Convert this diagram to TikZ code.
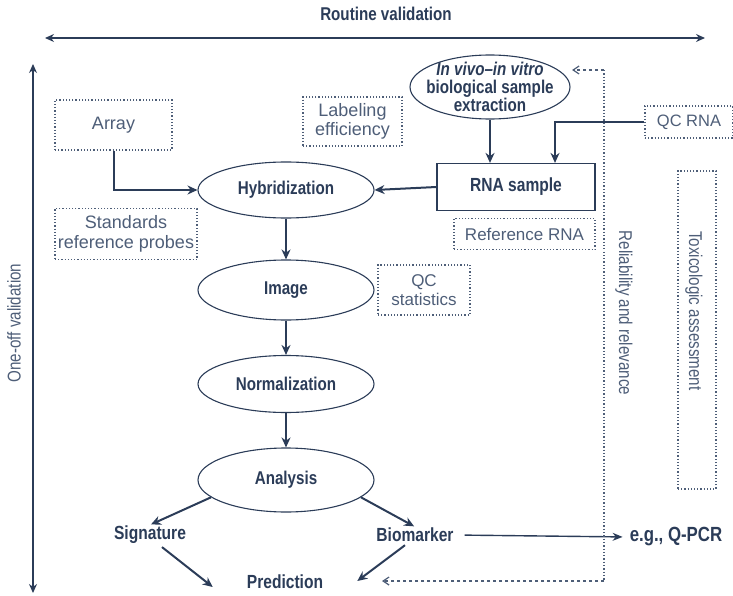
\documentclass[tikz,border=0pt]{standalone}
\usepackage{fontspec}
\setmainfont[FakeStretch=0.82]{Liberation Sans}
\newfontfamily\widefont{Liberation Sans}
\usetikzlibrary{shapes.geometric,arrows.meta}
\definecolor{ink}{HTML}{2B3C58}
\definecolor{lite}{HTML}{4E5E78}
\begin{document}
\begin{tikzpicture}[x=1pt,y=-1pt,
  every node/.style={text=ink},
  ell/.style={draw=ink,line width=1.1pt,ellipse,inner sep=0pt},
  elltext/.style={font=\bfseries\fontsize{18.5}{18}\selectfont,align=center,inner sep=0pt},
  dbox/.style={draw=lite,dotted,line width=1.2pt,inner sep=0pt,font=\widefont\fontsize{18}{19.5}\selectfont,align=center,text=lite},
  sbox/.style={draw=ink,line width=1.2pt,inner sep=0pt,font=\bfseries\fontsize{19}{20}\selectfont,align=center},
  lbl/.style={font=\bfseries\fontsize{19}{20}\selectfont,inner sep=1pt},
  side/.style={font=\fontsize{18.5}{20}\selectfont,text=lite,inner sep=0pt},
  flow/.style={draw=ink,line width=2pt,-{Stealth[length=10pt,width=9pt]}},
  thinflow/.style={draw=ink,line width=1.4pt,-{Stealth[length=10pt,width=8pt]}},
  val/.style={draw=ink,line width=1.3pt,{Stealth[length=9pt,width=8pt]}-{Stealth[length=9pt,width=8pt]}},
  fb/.style={draw=lite,line width=1.2pt,dashed,dash pattern=on 3pt off 3pt,-{Straight Barb[length=6pt,width=8pt]}}
]
\useasboundingbox (0,0) rectangle (733,596);

% validation axes
\node[font=\bfseries\fontsize{18.5}{20}\selectfont,inner sep=0pt] (rv) at (386,14) {Routine validation};
\coordinate (rvl) at (45,38);
\coordinate (rvr) at (705,38);
\draw[val] (rvl) -- (rvr);
\node[side,rotate=90] (ov) at (14,323) {One-off validation};
\coordinate (ovt) at (33,64);
\coordinate (ovb) at (33,593);
\draw[val] (ovt) -- (ovb);

% nodes
\node[ell,minimum width=160,minimum height=64] (vivo) at (490,87) {};
\node[elltext] (vivot) at (vivo.center) {{\itshape In vivo--in vitro}\\biological sample\\extraction};
\node[dbox,minimum width=117,minimum height=50] (array) at (113.5,125) {Array};
\node[dbox,minimum width=99,minimum height=49] (lab) at (352.5,121.5) {Labeling\\efficiency};
\node[dbox,minimum width=88,minimum height=32,font=\widefont\fontsize{16.5}{18}\selectfont] (qc) at (689,122) {QC RNA};
\node[sbox,minimum width=158,minimum height=47] (rna) at (516,187) {RNA sample};
\node[dbox,minimum width=141,minimum height=31,font=\widefont\fontsize{17}{18}\selectfont] (ref) at (524.5,234) {Reference RNA};
\node[ell,minimum width=176,minimum height=56] (hyb) at (286,190) {};
\node[elltext] (hybt) at (hyb.center) {Hybridization};
\node[dbox,minimum width=142,minimum height=51] (std) at (126,234) {Standards\\reference probes};
\node[ell,minimum width=176,minimum height=60] (img) at (286,290) {};
\node[elltext] (imgt) at (img.center) {Image};
\node[dbox,minimum width=92,minimum height=50,font=\widefont\fontsize{17}{19}\selectfont] (qcs) at (424,290) {QC\\statistics};
\node[ell,minimum width=176,minimum height=57] (norm) at (286,384) {};
\node[elltext] (normt) at (norm.center) {Normalization};
\node[ell,minimum width=176,minimum height=64] (ana) at (286,480) {};
\node[elltext] (anat) at (ana.center) {Analysis};
\node[lbl] (sig) at (150,535) {Signature};
\node[lbl] (bio) at (415,535) {Biomarker};
\node[lbl] (pred) at (285,582) {Prediction};
\node[lbl,font=\bfseries\fontsize{20.5}{20}\selectfont] (qpcr) at (676,537) {e.g., Q-PCR};
\node[dbox,minimum width=38,minimum height=318] (tox) at (697,330) {};
\node[side,rotate=-90] (toxt) at (694,311) {Toxicologic assessment};
\node[side,rotate=-90] (rel) at (624,313) {Reliability and relevance};

% main flow
\draw[flow] (vivo.south) -- (vivo.south |- rna.north);
\coordinate (qcin) at (555,0);
\draw[flow] (qc.west) -| (qcin |- rna.north);
\draw[flow] (array.south) |- (hyb.west);
\draw[flow] (rna.west) -- (hyb.east);
\draw[flow] (hyb.south) -- (img.north);
\draw[flow] (img.south) -- (norm.north);
\draw[flow] (norm.south) -- (ana.north);
\draw[flow,shorten >=1pt] (ana.193) -- (sig.north);
\draw[flow,shorten >=1pt] (ana.-13) -- (bio.north);
\draw[flow] ([xshift=12pt,yshift=-2pt]sig.south) -- ([xshift=-33pt,yshift=-5pt]pred.west);
\draw[flow] ([xshift=-10pt,yshift=-2pt]bio.south) -- ([xshift=33pt,yshift=1pt]pred.east);
\draw[thinflow,shorten <=10pt,shorten >=6pt] (bio.east) -- (qpcr.west);

% feedback (reliability and relevance)
\coordinate (fbtop) at (604,70);
\coordinate (fbbot) at (604,581);
\coordinate (fbtip) at (572,70);
\coordinate (fbend) at (382,581);
\draw[lite,dotted,line width=1.3pt] (fbtop) -- (fbbot);
\draw[fb] (fbtop) -- (fbtip);
\draw[fb] (fbbot) -- (fbend);
\end{tikzpicture}
\end{document}
